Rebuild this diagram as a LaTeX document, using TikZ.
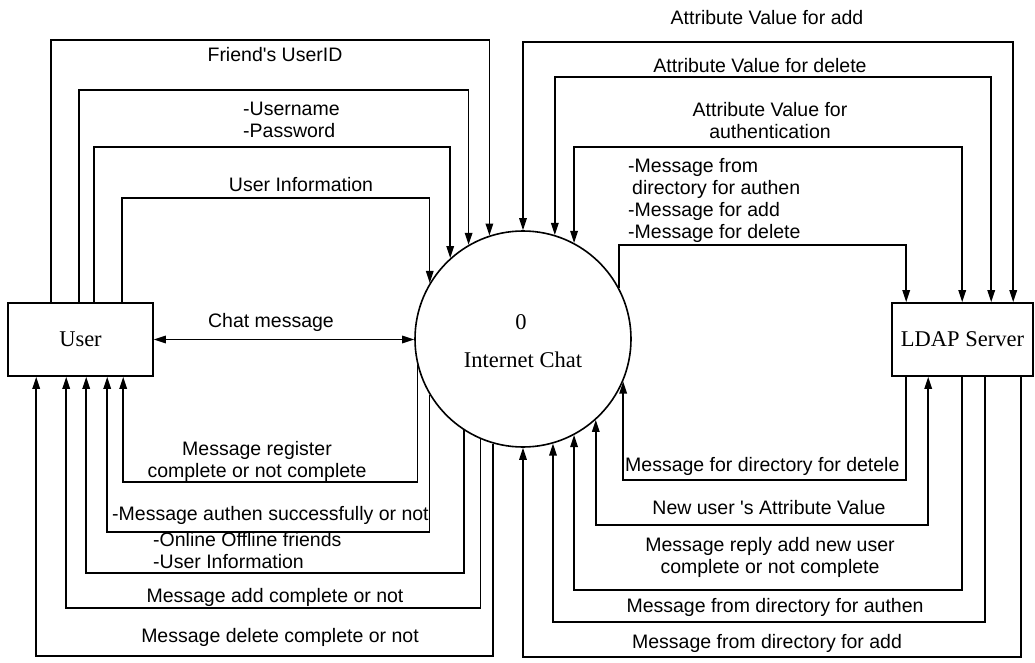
\documentclass[tikz,border=0pt]{standalone}
\usepackage{fontspec}
\setmainfont{Liberation Serif}
\newfontfamily\flowfont{Liberation Sans}
\usetikzlibrary{arrows.meta}

\begin{document}
\begin{tikzpicture}[x=1pt,y=-1pt,
  entity/.style={draw, line width=1.6pt, inner sep=0pt, font=\fontsize{22.5}{26}\selectfont},
  process/.style={draw, circle, line width=1.6pt, minimum size=216pt, inner sep=0pt},
  ptitle/.style={inner sep=0pt, font=\fontsize{22.5}{26}\selectfont},
  lbl/.style={inner sep=0pt, font=\flowfont\fontsize{19.5}{22}\selectfont},
  flow/.style={line width=1.5pt, -{Triangle[length=12pt,width=7.5pt]}},
  biflow/.style={line width=1.5pt, {Triangle[length=12pt,width=7.5pt]}-{Triangle[length=12pt,width=7.5pt]}}
]
\useasboundingbox (0,0) rectangle (1035,663);
\fill[white] (0,0) rectangle (1035,663);

% external entities and the process
\node[entity, minimum width=145pt, minimum height=73pt] (user) at (80.5,339.5) {User};
\node[entity, minimum width=141pt, minimum height=73pt] (ldap) at (962.5,339.5) {LDAP Server};
\node[process] (chat) at (523,339) {};
\node[ptitle] (chatno) at (521,322) {0};
\node[ptitle] (chatname) at (523,360) {Internet Chat};

% ports on the entity boxes
\coordinate (uT1) at ([xshift=44pt]user.north west);
\coordinate (uT2) at ([xshift=72pt]user.north west);
\coordinate (uT3) at ([xshift=87pt]user.north west);
\coordinate (uT4) at ([xshift=115pt]user.north west);
\coordinate (uB1) at ([xshift=116pt]user.south west);
\coordinate (uB2) at ([xshift=100pt]user.south west);
\coordinate (uB3) at ([xshift=79pt]user.south west);
\coordinate (uB4) at ([xshift=59pt]user.south west);
\coordinate (uB5) at ([xshift=29pt]user.south west);
\coordinate (lT1) at ([xshift=15pt]ldap.north west);
\coordinate (lT2) at ([xshift=71pt]ldap.north west);
\coordinate (lT3) at ([xshift=100pt]ldap.north west);
\coordinate (lT4) at ([xshift=122pt]ldap.north west);
\coordinate (lB1) at ([xshift=15pt]ldap.south west);
\coordinate (lB2) at ([xshift=37pt]ldap.south west);
\coordinate (lB3) at ([xshift=71pt]ldap.south west);
\coordinate (lB4) at ([xshift=94pt]ldap.south west);
\coordinate (lB5) at ([xshift=130pt]ldap.south west);

% ports on the process circle
\coordinate (cT1) at (chat.108.91);
\coordinate (cT2) at (chat.120.62);
\coordinate (cT3) at (chat.132.53);
\coordinate (cT4) at (chat.149.44);
\coordinate (cT5) at (chat.90.53);
\coordinate (cT6) at (chat.73.32);
\coordinate (cT7) at (chat.62.42);
\coordinate (cT8) at (chat.28.40);
\coordinate (cB1) at (chat.-166.45);
\coordinate (cB2) at (chat.-149.44);
\coordinate (cB3) at (chat.-123.75);
\coordinate (cB4) at (chat.-113.46);
\coordinate (cB5) at (chat.-106.13);
\coordinate (cB6) at (chat.-90);
\coordinate (cB7) at (chat.-74.42);
\coordinate (cB8) at (chat.-62.42);
\coordinate (cB9) at (chat.-48.90);
\coordinate (cB10) at (chat.-23.56);

% heights of the routed flows
\coordinate (yA) at (0,40);  \coordinate (yB) at (0,90);
\coordinate (yC) at (0,147); \coordinate (yD) at (0,198);
\coordinate (yE) at (0,42);  \coordinate (yF) at (0,77);
\coordinate (yG) at (0,147); \coordinate (yH) at (0,245);
\coordinate (yR1) at (0,482); \coordinate (yR2) at (0,532);
\coordinate (yR3) at (0,573); \coordinate (yR4) at (0,608);
\coordinate (yR5) at (0,656);
\coordinate (yS1) at (0,480); \coordinate (yS2) at (0,525);
\coordinate (yS3) at (0,590); \coordinate (yS4) at (0,622);
\coordinate (yS5) at (0,657);

% User -> Internet Chat
\draw[flow] (uT1) -- (uT1 |- yA) -| (cT1);
\draw[flow] (uT2) -- (uT2 |- yB) -| (cT2);
\draw[flow] (uT3) -- (uT3 |- yC) -| (cT3);
\draw[flow] (uT4) -- (uT4 |- yD) -| (cT4);
\draw[biflow] (user.east) -- (user.east -| chat.west);

% Internet Chat -> User
\draw[flow] (cB1) -- (cB1 |- yR1) -| (uB1);
\draw[flow] (cB2) -- (cB2 |- yR2) -| (uB2);
\draw[flow] (cB3) -- (cB3 |- yR3) -| (uB3);
\draw[flow] (cB4) -- (cB4 |- yR4) -| (uB4);
\draw[flow] (cB5) -- (cB5 |- yR5) -| (uB5);

% Internet Chat <-> LDAP Server, over the top
\draw[biflow] (cT5) -- (cT5 |- yE) -| (lT4);
\draw[biflow] (cT6) -- (cT6 |- yF) -| (lT3);
\draw[biflow] (cT7) -- (cT7 |- yG) -| (lT2);
\draw[flow] (cT8) -- (cT8 |- yH) -| (lT1);

% LDAP Server <-> Internet Chat, underneath
\draw[flow] (lB1) -- (lB1 |- yS1) -| (cB10);
\draw[biflow] (cB9) -- (cB9 |- yS2) -| (lB2);
\draw[flow] (lB3) -- (lB3 |- yS3) -| (cB8);
\draw[flow] (lB4) -- (lB4 |- yS4) -| (cB7);
\draw[flow] (lB5) -- (lB5 |- yS5) -| (cB6);

% flow labels, left side
\node[lbl] (fA) at (275,55) {Friend's UserID};
\node[lbl, anchor=west, align=left] (fB) at (243,120) {-Username\\-Password};
\node[lbl] (fD) at (301,185) {User Information};
\node[lbl] (fchat) at (271,322) {Chat message};
\node[lbl, align=center] (fR1) at (257,461) {Message register\\complete or not complete};
\node[lbl, anchor=west] (fR2) at (112,515) {-Message authen successfully or not};
\node[lbl, anchor=west, align=left] (fR3) at (153,551) {-Online Offline friends\\-User Information};
\node[lbl] (fR4) at (275,597) {Message add complete or not};
\node[lbl] (fR5) at (280,637) {Message delete complete or not};

% flow labels, right side
\node[lbl] (fE) at (767,18) {Attribute Value for add};
\node[lbl] (fF) at (760,66) {Attribute Value for delete};
\node[lbl, align=center] (fG) at (770,121) {Attribute Value for\\authentication};
\node[lbl, anchor=west, align=left] (fH) at (628,200) {-Message from\\\hspace*{4pt}directory for authen\\-Message for add\\-Message for delete};
\node[lbl, anchor=west] (fS1) at (625,466) {Message for directory for detele};
\node[lbl] (fS2) at (769,508) {New user 's Attribute Value};
\node[lbl, align=center] (fS3) at (770,557) {Message reply add new user\\complete or not complete};
\node[lbl] (fS4) at (775,607) {Message from directory for authen};
\node[lbl] (fS5) at (767,643) {Message from directory for add};
\end{tikzpicture}
\end{document}
